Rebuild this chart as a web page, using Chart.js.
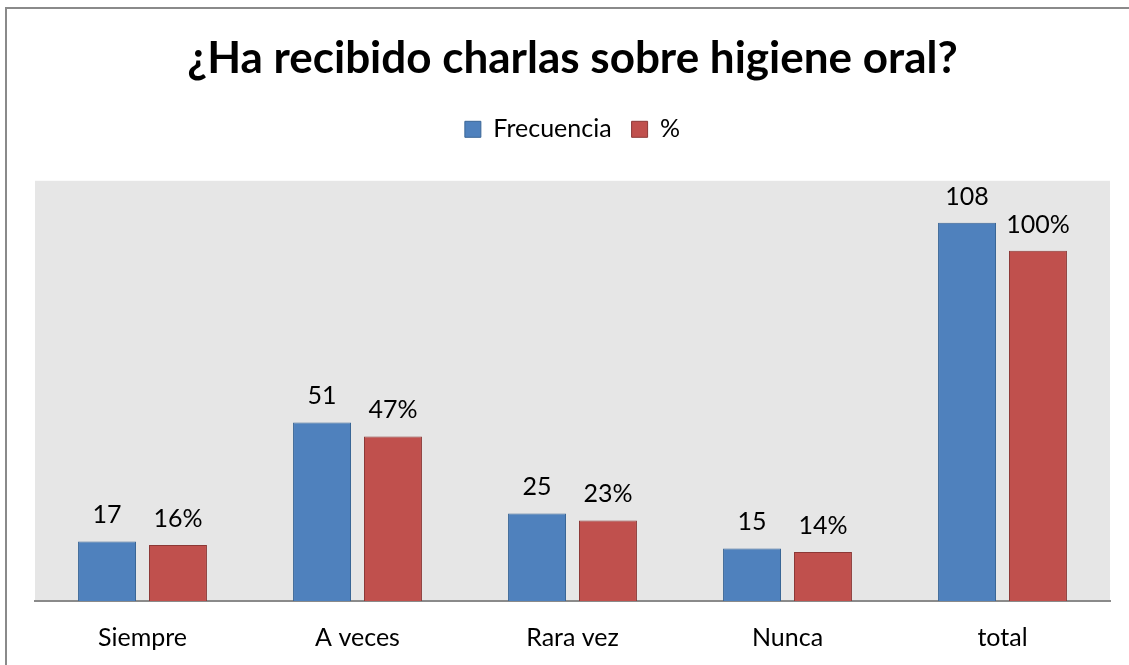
<!DOCTYPE html>
<html>
<head>
<meta charset="utf-8">
<script src="https://cdn.jsdelivr.net/npm/chart.js@4"></script>
<style>
  body { margin: 0; background: #fff; }
  #wrap { width: 1129px; height: 665px; position: relative; }
</style>
</head>
<body>
<div id="wrap"><canvas id="chart"></canvas></div>
<script>
const categories = ['Siempre', 'A veces', 'Rara vez', 'Nunca', 'total'];
const frecuencia = [17, 51, 25, 15, 108];
const porcentaje = [16, 47, 23, 14, 100];

const FONT = 'Lato, "Noto Sans", sans-serif';

// fondo gris del área de trazado y borde del gráfico
const background = {
    id: 'background',
    beforeDraw(chart) {
        const { ctx, chartArea: a } = chart;
        ctx.save();
        ctx.fillStyle = '#e6e6e6';
        ctx.fillRect(a.left, a.top, a.right - a.left, a.bottom - a.top);
        ctx.strokeStyle = '#8a8a8a';
        ctx.lineWidth = 2;
        ctx.beginPath();
        ctx.moveTo(6, 700);
        ctx.lineTo(6, 8);
        ctx.lineTo(1140, 8);
        ctx.stroke();
        ctx.restore();
    }
};

// etiquetas de datos encima de cada barra
const valueLabels = {
    id: 'valueLabels',
    afterDatasetsDraw(chart) {
        const { ctx } = chart;
        ctx.save();
        ctx.font = '25px ' + FONT;
        ctx.fillStyle = '#000';
        ctx.textAlign = 'center';
        ctx.textBaseline = 'alphabetic';
        chart.data.datasets.forEach((ds, i) => {
            chart.getDatasetMeta(i).data.forEach((bar, j) => {
                const txt = i === 1 ? ds.data[j] + '%' : String(ds.data[j]);
                ctx.fillText(txt, bar.x, bar.y - 18);
            });
        });
        ctx.restore();
    }
};

// espacio extra debajo de la leyenda
const legendSpace = {
    id: 'legendSpace',
    beforeInit(chart) {
        const fit = chart.legend.fit;
        chart.legend.fit = function () {
            fit.call(this);
            this.height += 29;
        };
    }
};

new Chart(document.getElementById('chart'), {
    type: 'bar',
    data: {
        labels: categories,
        datasets: [{
            label: 'Frecuencia',
            data: frecuencia,
            backgroundColor: '#4f81bd',
            borderColor: '#3a6696',
            borderWidth: 1,
            categoryPercentage: 0.66,
            barPercentage: 0.817
        }, {
            label: '%',
            data: porcentaje,
            backgroundColor: '#c0504d',
            borderColor: '#8c3836',
            borderWidth: 1,
            categoryPercentage: 0.66,
            barPercentage: 0.817
        }]
    },
    options: {
        responsive: true,
        maintainAspectRatio: false,
        animation: false,
        layout: { padding: { left: 35, right: 19, top: 0, bottom: 0 } },
        plugins: {
            title: {
                display: true,
                text: '¿Ha recibido charlas sobre higiene oral?',
                color: '#000',
                font: { family: FONT, size: 44, weight: 'bold' },
                padding: { top: 32, bottom: 12 }
            },
            legend: {
                display: true,
                labels: {
                    color: '#000',
                    font: { family: FONT, size: 25 },
                    boxWidth: 16,
                    boxHeight: 16,
                    padding: 20
                }
            },
            tooltip: { enabled: false }
        },
        scales: {
            x: {
                grid: { display: false, drawTicks: false },
                border: { display: true, color: '#8a8a8a', width: 2 },
                ticks: { color: '#000', font: { family: FONT, size: 25 }, padding: 22 },
                afterFit(scale) { scale.height = 64; }
            },
            y: {
                display: false,
                min: 0,
                max: 120
            }
        }
    },
    plugins: [background, valueLabels, legendSpace]
});
</script>
</body>
</html>
